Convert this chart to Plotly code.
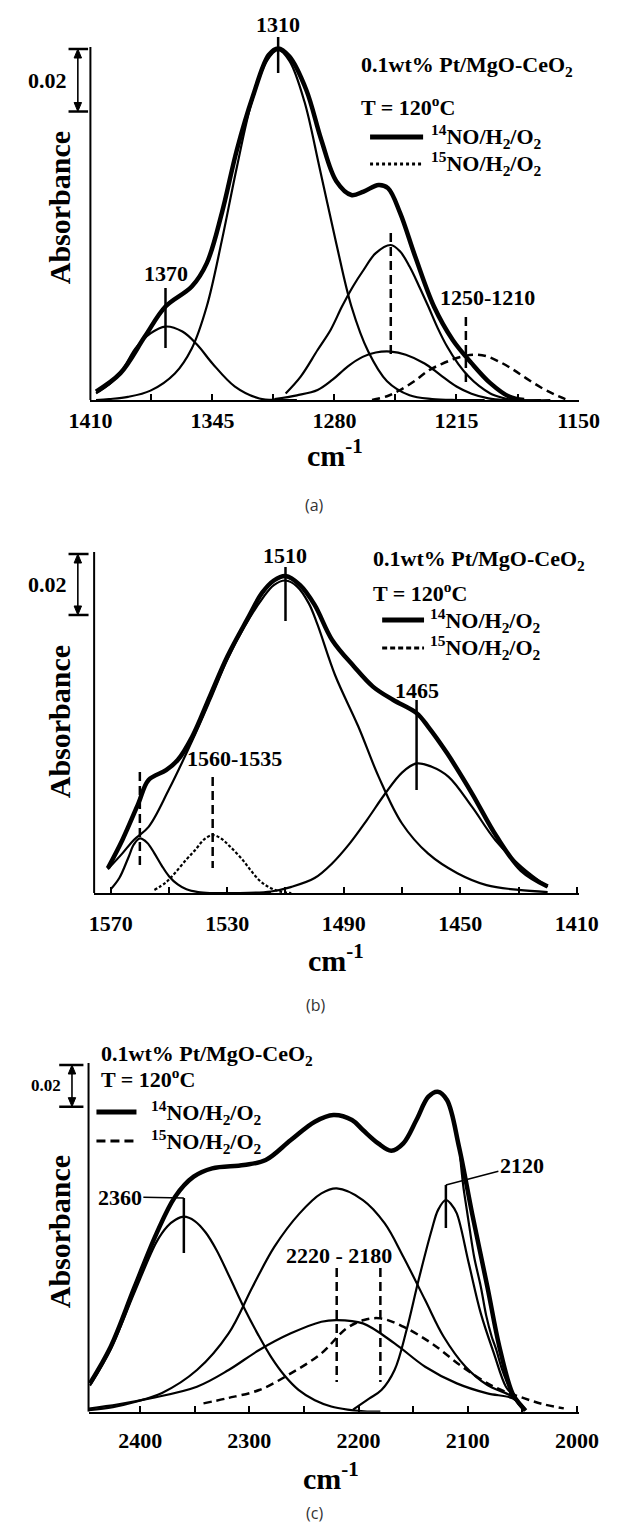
import plotly.graph_objects as go

# ---------------- panel (a): 1410-1150 cm-1 ----------------
A_SUM_X = [1407, 1394, 1381, 1370, 1356, 1348, 1340, 1332, 1323.5, 1315, 1310, 1304, 1295, 1287,
           1279, 1271, 1264.5, 1256.5, 1251.5, 1245, 1237, 1227, 1217, 1207, 1197, 1187, 1179]
A_SUM_Y = [0.0027, 0.0086, 0.0203, 0.0299, 0.0363, 0.0438, 0.0598, 0.0800, 0.0971, 0.1104, 0.1125,
           0.1099, 0.0992, 0.0832, 0.0700, 0.0656, 0.0667, 0.0688, 0.0678, 0.0598, 0.0459, 0.0299,
           0.0192, 0.0118, 0.0054, 0.0011, 0.0]
A_1370_X = [1407, 1400, 1394, 1386, 1378, 1370, 1361, 1353, 1345, 1333, 1320, 1310, 1300]
A_1370_Y = [0.0021, 0.0050, 0.0085, 0.0165, 0.0213, 0.0235, 0.0219, 0.0176, 0.0117, 0.0043, 0.0005,
            0.0, 0.0]
A_1310_X = [1407, 1400, 1390, 1378, 1365, 1356, 1348, 1340, 1332, 1324, 1316, 1310, 1304, 1296, 1288,
            1279, 1271, 1262, 1252, 1240, 1228, 1215, 1200]
A_1310_Y = [0.0, 0.0003, 0.0010, 0.0030, 0.0085, 0.0165, 0.0300, 0.0510, 0.0745, 0.0955, 0.1085, 0.1120,
            0.1085, 0.0955, 0.0745, 0.0500, 0.0300, 0.0155, 0.0060, 0.0015, 0.0003, 0.0, 0.0]
A_1250_X = [1306, 1298, 1289, 1282, 1276, 1270, 1264.5, 1258, 1250, 1245, 1240, 1235, 1230, 1225,
            1220, 1214, 1208.5, 1203, 1197, 1191, 1185, 1170]
A_1250_Y = [0.0021, 0.0075, 0.0160, 0.0225, 0.0299, 0.0365, 0.0416, 0.0470, 0.0496, 0.0475, 0.0427,
            0.0365, 0.0299, 0.0230, 0.0171, 0.0115, 0.0075, 0.0045, 0.0021, 0.0008, 0.0, 0.0]
A_1250S_X = [1312, 1300, 1289, 1281, 1273, 1265, 1258, 1250, 1242, 1232, 1224, 1215, 1207, 1198, 1190,
             1165]
A_1250S_Y = [0.0003, 0.0015, 0.0032, 0.0065, 0.0107, 0.0138, 0.0152, 0.0155, 0.0145, 0.0117, 0.0082,
             0.0043, 0.0020, 0.0005, 0.0, 0.0]
A_15_X = [1260, 1252, 1245, 1237, 1230, 1223, 1216, 1210, 1205, 1199, 1192, 1185, 1178, 1170, 1163, 1157]
A_15_Y = [0.0, 0.0012, 0.0032, 0.0062, 0.0094, 0.0115, 0.0132, 0.0142, 0.0145, 0.0140, 0.0122, 0.0098,
          0.0070, 0.0040, 0.0018, 0.0003]
A_TICKS = [1410, 1345, 1280, 1215, 1150]
A_BANDS = [1310, 1370]
A_BANDS_15 = [1250, 1210]

# ---------------- panel (b): 1570-1410 cm-1 ----------------
B_SUM_X = [1571, 1566, 1560.5, 1557, 1551, 1547, 1542, 1536, 1530, 1523, 1518, 1514, 1510, 1505, 1500,
           1494, 1486.5, 1480, 1473, 1465, 1461, 1454.5, 1446, 1437.5, 1429, 1420]
B_SUM_Y = [0.0081, 0.0174, 0.0294, 0.0371, 0.0403, 0.0436, 0.0513, 0.0644, 0.0775, 0.0900, 0.0985,
           0.1025, 0.1040, 0.1010, 0.0945, 0.0830, 0.0743, 0.0677, 0.0633, 0.0590, 0.0545, 0.0458,
           0.0327, 0.0185, 0.0075, 0.0021]
B_1510_X = [1571, 1566, 1562, 1557, 1550, 1542, 1536, 1530, 1524, 1518, 1514, 1510, 1506, 1502, 1499,
            1493, 1485, 1478, 1470, 1461, 1451, 1441, 1430, 1420]
B_1510_Y = [0.0078, 0.0130, 0.0175, 0.0217, 0.0340, 0.0500, 0.0630, 0.0765, 0.0875, 0.0965, 0.1010,
            0.1025, 0.1005, 0.0950, 0.0880, 0.0715, 0.0546, 0.0381, 0.0228, 0.0129, 0.0065, 0.0026,
            0.0010, 0.0003]
B_1465_X = [1540, 1515, 1508, 1500, 1494, 1488, 1482, 1476, 1470, 1465, 1460, 1454, 1446, 1438, 1429,
            1420]
B_1465_Y = [0.0, 0.0005, 0.0020, 0.0049, 0.0097, 0.0162, 0.0240, 0.0323, 0.0395, 0.0425, 0.0415, 0.0381,
            0.0283, 0.0174, 0.0086, 0.0020]
B_1560_X = [1570, 1567, 1564, 1562, 1560, 1557.5, 1555, 1552.5, 1550, 1547, 1544, 1540, 1536, 1515]
B_1560_Y = [0.0012, 0.0050, 0.0115, 0.0160, 0.0179, 0.0165, 0.0130, 0.0090, 0.0055, 0.0028, 0.0012,
            0.0003, 0.0, 0.0]
B_15_X = [1555, 1551, 1548, 1544, 1541, 1538, 1535, 1532, 1529, 1525, 1522, 1519, 1516, 1512, 1508]
B_15_Y = [0.0010, 0.0035, 0.0065, 0.0110, 0.0141, 0.0175, 0.0190, 0.0178, 0.0152, 0.0112, 0.0075,
          0.0042, 0.0021, 0.0005, 0.0]
B_TICKS = [1570, 1530, 1490, 1450, 1410]
B_BANDS = [1510, 1465]
B_BANDS_15 = [1560, 1535]

# ---------------- panel (c): 2450-2000 cm-1 ----------------
C_SUM_X = [2446, 2427, 2405, 2385, 2368, 2351, 2334, 2305, 2285, 2262, 2240, 2223, 2206, 2196, 2182,
           2170, 2159, 2147, 2136, 2127.5, 2119, 2108, 2096, 2082, 2071, 2059, 2052, 2047]
C_SUM_Y = [0.0136, 0.0312, 0.0600, 0.0856, 0.1032, 0.1128, 0.1168, 0.1184, 0.1208, 0.1304, 0.1392,
           0.1424, 0.1400, 0.1352, 0.1288, 0.1253, 0.1288, 0.1400, 0.1512, 0.1536, 0.1496, 0.1272,
           0.0952, 0.0600, 0.0312, 0.0088, 0.0035, 0.0005]
C_2360_X = [2446, 2427, 2405, 2385, 2375, 2368, 2360, 2350, 2340, 2330, 2318, 2305, 2292, 2280, 2268,
            2255, 2240, 2225, 2210, 2195, 2180]
C_2360_Y = [0.0125, 0.0300, 0.0575, 0.0815, 0.0890, 0.0920, 0.0936, 0.0915, 0.0860, 0.0775, 0.0645,
            0.0500, 0.0370, 0.0262, 0.0175, 0.0105, 0.0055, 0.0025, 0.0010, 0.0002, 0.0]
C_2220_X = [2447, 2425, 2404, 2380, 2348, 2319, 2297, 2277, 2254, 2234, 2220, 2196, 2176, 2159, 2139,
            2122, 2102, 2082, 2059, 2047]
C_2220_Y = [0.0008, 0.0022, 0.0048, 0.0090, 0.0200, 0.0376, 0.0600, 0.0792, 0.0952, 0.1048, 0.1072,
            0.1016, 0.0904, 0.0744, 0.0536, 0.0360, 0.0216, 0.0128, 0.0072, 0.0010]
C_2220S_X = [2447, 2420, 2390, 2348, 2319, 2291, 2262, 2234, 2220, 2196, 2167, 2139, 2110, 2082, 2059, 2047]
C_2220S_Y = [0.0015, 0.0035, 0.0065, 0.0120, 0.0200, 0.0296, 0.0376, 0.0432, 0.0440, 0.0424, 0.0328,
             0.0216, 0.0136, 0.0088, 0.0064, 0.0010]
C_2120_X = [2205, 2190, 2179, 2167, 2156, 2145, 2133, 2127, 2120, 2115, 2110, 2099, 2088, 2076, 2065,
            2056, 2048]
C_2120_Y = [0.0010, 0.0064, 0.0104, 0.0200, 0.0392, 0.0632, 0.0872, 0.0970, 0.1016, 0.0995, 0.0952,
            0.0712, 0.0472, 0.0280, 0.0120, 0.0064, 0.0010]
C_MID_X = [2107, 2104, 2101, 2098, 2094, 2088, 2083, 2078, 2074, 2069, 2064, 2059, 2054, 2049]
C_MID_Y = [0.1230, 0.1080, 0.0975, 0.0870, 0.0740, 0.0600, 0.0460, 0.0360, 0.0300, 0.0210, 0.0140,
           0.0080, 0.0040, 0.0010]
C_15_X = [2342, 2320, 2291, 2262, 2234, 2211, 2195, 2180, 2159, 2133, 2105, 2076, 2048, 2030, 2012]
C_15_Y = [0.0040, 0.0065, 0.0104, 0.0184, 0.0280, 0.0400, 0.0440, 0.0448, 0.0408, 0.0328, 0.0216,
          0.0120, 0.0064, 0.0035, 0.0016]
C_TICKS = [2400, 2300, 2200, 2100, 2000]
C_BANDS = [2360, 2120]
C_BANDS_15 = [2220, 2180]

SCALE_BAR = 0.02
SAMPLE = "0.1wt% Pt/MgO-CeO<sub>2</sub>"
TEMP = "T = 120<sup>o</sup>C"
GAS14 = "<sup>14</sup>NO/H<sub>2</sub>/O<sub>2</sub>"
GAS15 = "<sup>15</sup>NO/H<sub>2</sub>/O<sub>2</sub>"

# ---------------- figure ----------------
W, H = 620, 1528
SERIF = "Liberation Serif, Times New Roman, serif"
SANS = "Open Sans, Noto Sans, sans-serif"


def px(X):
    return X / W


def py(Y):
    return 1 - Y / H


HEAD = 20  # headroom (px) above each drawn y-axis line
PANELS = [
    dict(ax="", x0=73.5, x1=598, ytop=47, ybase=400, k=0.00032, xr=[1410, 1150],
         ticks=A_TICKS, minor=32.5, standoff=0),
    dict(ax="2", x0=77.5, x1=598, ytop=552, ybase=893, k=0.000328, xr=[1575.7, 1409.4],
         ticks=B_TICKS, minor=20, standoff=10),
    dict(ax="3", x0=71.5, x1=598, ytop=1063, ybase=1411.7, k=0.00048, xr=[2447.3, 1998.5],
         ticks=C_TICKS, minor=50, standoff=8),
]

fig = go.Figure()
shapes, annos = [], []

for p in PANELS:
    top = (p["ybase"] - p["ytop"]) * p["k"]
    fig.layout["xaxis" + p["ax"]] = dict(
        domain=[px(p["x0"]), px(p["x1"])], range=p["xr"], anchor="y" + p["ax"],
        showline=True, linecolor="black", linewidth=2,
        ticks="inside", ticklen=6, tickwidth=1.5, tickcolor="black",
        tickvals=p["ticks"], ticktext=[f"<b>{v}</b>" for v in p["ticks"]],
        tickfont=dict(family=SERIF, size=22, color="black"),
        ticklabelstandoff=p["standoff"],
        minor=dict(tick0=p["ticks"][0], dtick=p["minor"], ticks="inside", ticklen=6,
                   tickwidth=1.5, tickcolor="black"),
        showgrid=False, zeroline=False, fixedrange=True)
    fig.layout["yaxis" + p["ax"]] = dict(
        domain=[py(p["ybase"]), py(p["ytop"] - HEAD)],
        range=[0, (p["ybase"] - p["ytop"] + HEAD) * p["k"]],
        anchor="x" + p["ax"], visible=False, fixedrange=True)
    # vertical axis line
    shapes.append(dict(type="line", xref="paper", yref="y" + p["ax"], x0=px(p["x0"]), x1=px(p["x0"]),
                       y0=0, y1=top, line=dict(color="black", width=2)))


def curve(xs, ys, ax, width, dash="solid"):
    fig.add_trace(go.Scatter(
        x=xs, y=ys, xaxis="x" + ax, yaxis="y" + ax, mode="lines",
        line=dict(color="black", width=width, dash=dash, shape="spline", smoothing=1.0),
        hoverinfo="skip", showlegend=False))


def text(X, Y, s, size=22, xanchor="center", xref="paper", x=None, family=SERIF, bold=True,
         angle=0, color="black"):
    annos.append(dict(
        x=px(X) if x is None else x, y=py(Y), xref=xref, yref="paper",
        text=f"<b>{s}</b>" if bold else s, showarrow=False, xanchor=xanchor, yanchor="middle",
        textangle=angle, font=dict(family=family, size=size, color=color)))


def band_tick(ax, v, Y0, Y1, dashed=False):
    shapes.append(dict(type="line", xref="x" + ax, yref="paper", x0=v, x1=v, y0=py(Y0), y1=py(Y1),
                       line=dict(color="black", width=2.5, dash="9px,5px" if dashed else "solid")))


def scale_bar(p, Ybar, Xl, Xr, Xarrow, Xtext, size):
    """0.02 absorbance bar: two caps, a double-headed arrow and its value."""
    ax = p["ax"]
    yref = "y" + ax
    y1 = (p["ybase"] - Ybar) * p["k"]
    y0 = y1 - SCALE_BAR
    for yy in (y0, y1):
        shapes.append(dict(type="line", xref="paper", yref=yref, x0=px(Xl), x1=px(Xr), y0=yy, y1=yy,
                           line=dict(color="black", width=2.5)))
    head = 9 * p["k"]  # arrow-head length (9 px) in absorbance units
    shapes.append(dict(type="line", xref="paper", yref=yref, x0=px(Xarrow), x1=px(Xarrow),
                       y0=y0 + head * 0.5, y1=y1 - head * 0.5, line=dict(color="black", width=1.6)))
    xa, xl, xr = px(Xarrow), px(Xarrow - 4), px(Xarrow + 4)
    for tip, base in ((y1, y1 - head), (y0, y0 + head)):
        shapes.append(dict(type="path", xref="paper", yref=yref,
                           path=f"M {xa} {tip} L {xl} {base} L {xr} {base} Z",
                           fillcolor="black", line=dict(color="black", width=1)))
    annos.append(dict(x=px(Xtext), y=(y0 + y1) / 2, xref="paper", yref=yref,
                      text=f"<b>{SCALE_BAR}</b>", showarrow=False, xanchor="right", yanchor="middle",
                      font=dict(family=SERIF, size=size, color="black")))


def legend(Xtxt, Ysample, Ytemp, Xl0, Xl1, Xlab, Y14, Y15, dash15, size=22):
    text(Xtxt, Ysample, SAMPLE, size=size, xanchor="left")
    text(Xtxt, Ytemp, TEMP, size=size, xanchor="left")
    shapes.append(dict(type="line", xref="paper", yref="paper", x0=px(Xl0), x1=px(Xl1), y0=py(Y14),
                       y1=py(Y14), line=dict(color="black", width=5)))
    shapes.append(dict(type="line", xref="paper", yref="paper", x0=px(Xl0), x1=px(Xl1), y0=py(Y15),
                       y1=py(Y15), line=dict(color="black", width=3, dash=dash15)))
    text(Xlab, Y14, GAS14, size=size, xanchor="left")
    text(Xlab, Y15, GAS15, size=size, xanchor="left")


# ---- panel (a) curves ----
for xs, ys in ((A_1370_X, A_1370_Y), (A_1310_X, A_1310_Y), (A_1250_X, A_1250_Y), (A_1250S_X, A_1250S_Y)):
    curve(xs, ys, "", 2.2)
curve(A_15_X, A_15_Y, "", 2.5, "8px,5px")
curve(A_SUM_X, A_SUM_Y, "", 4.5)

# ---- panel (b) curves ----
for xs, ys in ((B_1510_X, B_1510_Y), (B_1465_X, B_1465_Y), (B_1560_X, B_1560_Y)):
    curve(xs, ys, "2", 2.2)
curve(B_15_X, B_15_Y, "2", 2.2, "3px,2px")
curve(B_SUM_X, B_SUM_Y, "2", 4.5)

# ---- panel (c) curves ----
for xs, ys in ((C_2360_X, C_2360_Y), (C_2220_X, C_2220_Y), (C_2220S_X, C_2220S_Y), (C_2120_X, C_2120_Y),
               (C_MID_X, C_MID_Y)):
    curve(xs, ys, "3", 2.2)
curve(C_15_X, C_15_Y, "3", 2.5, "8px,5px")
curve(C_SUM_X, C_SUM_Y, "3", 4.5)

# ---- panel (a) annotations ----
pa, pb, pc = PANELS
scale_bar(pa, 49, 50, 71, 60, 50, 22)
text(40, 208, "Absorbance", size=30, angle=-90)
text(336, 453, "cm<sup>-1</sup>", size=30)
text(314, 505, "(a)", size=16, family=SANS, bold=False, color="#333")
legend(362, 66, 106, 374, 431, 437, 137, 164, "dot")
band_tick("", A_BANDS[0], 37, 73)
text(0, 25, str(A_BANDS[0]), xref="x", x=A_BANDS[0])
band_tick("", A_BANDS[1], 288, 348)
text(0, 273, str(A_BANDS[1]), xref="x", x=A_BANDS[1])
band_tick("", A_BANDS_15[0], 233, 357, dashed=True)
band_tick("", A_BANDS_15[1], 317, 387, dashed=True)
text(500, 297, f"{A_BANDS_15[0]}-{A_BANDS_15[1]}")

# ---- panel (b) annotations ----
scale_bar(pb, 554, 50, 71.5, 60, 50, 22)
text(40, 722, "Absorbance", size=30, angle=-90)
text(337, 958, "cm<sup>-1</sup>", size=30)
text(316, 1005, "(b)", size=16, family=SANS, bold=False, color="#333")
legend(375, 560, 592, 387, 432, 436, 620, 648, "5px,3px")
band_tick("2", B_BANDS[0], 567, 621)
text(0, 555, str(B_BANDS[0]), xref="x2", x=B_BANDS[0])
band_tick("2", B_BANDS[1], 700, 790)
text(0, 690, str(B_BANDS[1]), xref="x2", x=B_BANDS[1])
band_tick("2", B_BANDS_15[0], 772, 867, dashed=True)
band_tick("2", B_BANDS_15[1], 777, 868, dashed=True)
text(228, 758, f"{B_BANDS_15[0]}-{B_BANDS_15[1]}")

# ---- panel (c) annotations ----
scale_bar(pc, 1065, 40, 66, 53.7, 44, 17)
text(40, 1232, "Absorbance", size=30, angle=-90)
text(332, 1476, "cm<sup>-1</sup>", size=30)
text(314, 1513, "(c)", size=16, family=SANS, bold=False, color="#333")
legend(83, 1055, 1078, 80, 123, 137, 1112, 1141, "9px,5px")
band_tick("3", C_BANDS[0], 1198, 1253)
annos.append(dict(x=C_BANDS[0], y=py(1198), xref="x3", yref="paper", text=f"<b>{C_BANDS[0]}</b>",
                  showarrow=True, arrowhead=0, arrowwidth=1.5, arrowcolor="black", ax=-64, ay=-1,
                  font=dict(family=SERIF, size=22, color="black")))
band_tick("3", C_BANDS[1], 1185, 1228)
annos.append(dict(x=C_BANDS[1], y=py(1185), xref="x3", yref="paper", text=f"<b>{C_BANDS[1]}</b>",
                  showarrow=True, arrowhead=0, arrowwidth=1.5, arrowcolor="black", ax=76, ay=-20,
                  font=dict(family=SERIF, size=22, color="black")))
band_tick("3", C_BANDS_15[0], 1268, 1382, dashed=True)
band_tick("3", C_BANDS_15[1], 1268, 1382, dashed=True)
text(341, 1255, f"{C_BANDS_15[0]} - {C_BANDS_15[1]}")

fig.update_layout(width=W, height=H, margin=dict(l=0, r=0, t=0, b=0), showlegend=False,
                  plot_bgcolor="white", paper_bgcolor="white", shapes=shapes, annotations=annos)
fig.write_html("out.html")
